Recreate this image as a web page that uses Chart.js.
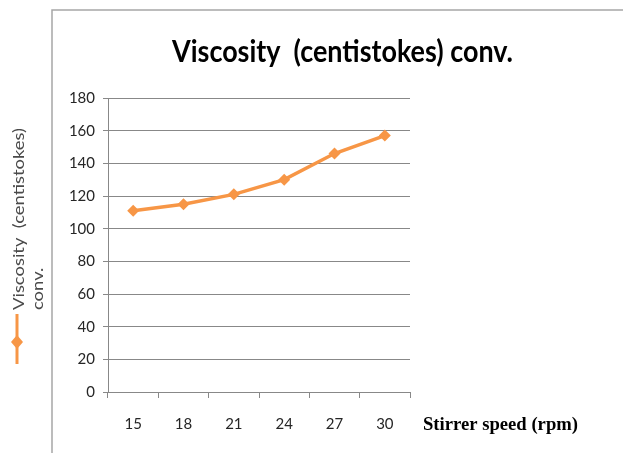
<!DOCTYPE html>
<html>
<head>
<meta charset="utf-8">
<script src="https://cdn.jsdelivr.net/npm/chart.js@4.4.0/dist/chart.umd.min.js"></script>
<style>
  html, body { margin: 0; padding: 0; background: #fff; }
  canvas { display: block; }
</style>
</head>
<body>
<canvas id="viscosityChart" width="623" height="453"></canvas>
<script>
const speeds = ["15", "18", "21", "24", "27", "30"];
const viscosity = [111, 115, 121, 130, 146, 157];
const yTicks = [0, 20, 40, 60, 80, 100, 120, 140, 160, 180];

const chartTitle = "Viscosity  (centistokes) conv.";
const seriesName = ["Viscosity  (centistokes)", "conv."];
const xTitle = "Stirrer speed (rpm)";

const orange = "#F79646";
const gridGray = "#888888";
const sans = "Lato, 'Open Sans', sans-serif";

// draw text squeezed horizontally so it spans a given width
function squeezedText(ctx, text, font, x, y, width) {
  ctx.font = font;
  const w = ctx.measureText(text).width;
  ctx.save();
  ctx.translate(x, y);
  ctx.scale(width / w, 1);
  ctx.fillText(text, 0, 0);
  ctx.restore();
}

const decorations = {
  id: "decorations",
  afterDraw(chart) {
    const ctx = chart.ctx;
    ctx.save();

    // frame of the original excel chart
    ctx.strokeStyle = "#a6a6a6";
    ctx.lineWidth = 1.5;
    ctx.beginPath();
    ctx.moveTo(52, 453);
    ctx.lineTo(52, 10);
    ctx.lineTo(623, 10);
    ctx.stroke();

    // title
    ctx.fillStyle = "#000";
    ctx.textBaseline = "middle";
    ctx.textAlign = "left";
    squeezedText(ctx, chartTitle, "bold 31px " + sans, 172, 52, 341);

    // x axis title
    squeezedText(ctx, xTitle, "bold 19px 'Liberation Serif', 'DejaVu Serif', serif", 423, 425, 155);

    // legend, rotated
    ctx.translate(19, 310);
    ctx.rotate(-Math.PI / 2);
    ctx.fillStyle = "#4a4a4a";
    squeezedText(ctx, seriesName[0], "15px " + sans, 0, 0, 182);
    ctx.font = "15px " + sans;
    const k = 182 / ctx.measureText(seriesName[0]).width;
    squeezedText(ctx, seriesName[1], "15px " + sans, 0, 19, ctx.measureText(seriesName[1]).width * k);
    ctx.restore();

    ctx.save();
    ctx.strokeStyle = orange;
    ctx.fillStyle = orange;
    ctx.lineWidth = 3;
    ctx.beginPath();
    ctx.moveTo(17, 314);
    ctx.lineTo(17, 364);
    ctx.stroke();
    ctx.beginPath();
    ctx.moveTo(17, 335);
    ctx.lineTo(23, 342);
    ctx.lineTo(17, 349);
    ctx.lineTo(11, 342);
    ctx.closePath();
    ctx.fill();
    ctx.restore();
  }
};

new Chart(document.getElementById("viscosityChart"), {
  type: "line",
  data: {
    labels: speeds,
    datasets: [
      {
        label: seriesName.join(" "),
        data: viscosity,
        borderColor: orange,
        backgroundColor: orange,
        borderWidth: 3.5,
        pointStyle: "rectRot",
        pointRadius: 6,
        pointBorderWidth: 0,
        tension: 0,
      },
    ],
  },
  options: {
    responsive: false,
    animation: false,
    layout: { padding: { left: 60, top: 98, right: 213, bottom: 0 } },
    plugins: {
      legend: { display: false },
      title: { display: false },
      tooltip: { enabled: false },
    },
    scales: {
      x: {
        offset: true,
        grid: {
          offset: true,
          drawOnChartArea: false,
          drawTicks: true,
          tickLength: 6,
          color: gridGray,
        },
        border: { color: gridGray, width: 1 },
        ticks: {
          color: "#262626",
          padding: 17,
          font: { family: sans, size: 15 },
        },
        afterFit(scale) { scale.height = 61; },
      },
      y: {
        min: 0,
        max: 180,
        afterBuildTicks(scale) { scale.ticks = yTicks.map(v => ({ value: v })); },
        grid: { color: gridGray, tickLength: 5 },
        border: { color: gridGray, width: 1 },
        ticks: {
          color: "#262626",
          padding: 8,
          font: { family: sans, size: 15 },
        },
        afterFit(scale) { scale.width = 48; },
      },
    },
  },
  plugins: [decorations],
});
</script>
</body>
</html>
